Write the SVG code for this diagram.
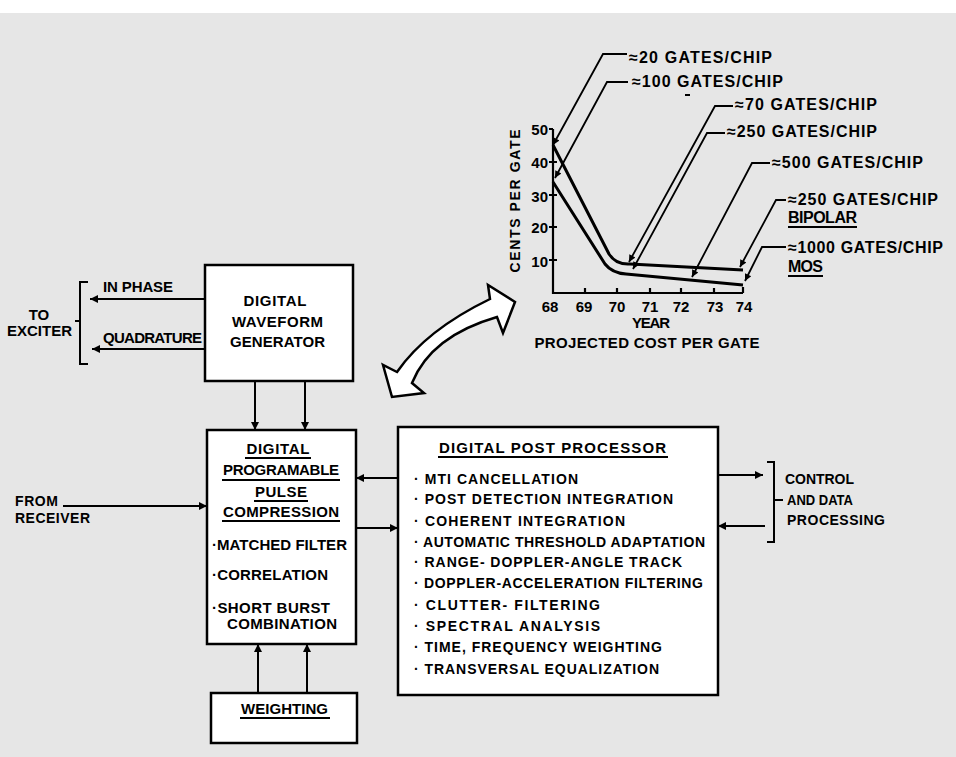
<svg xmlns="http://www.w3.org/2000/svg" width="956" height="757" viewBox="0 0 956 757">
<defs>
<style>
text{font-family:"Liberation Sans",Arial,sans-serif;font-weight:700;fill:#000;}
.t15{font-size:15px;}
.t14{font-size:14px;}
.t16{font-size:16px;}
.box{fill:#fff;stroke:#000;stroke-width:2.5;}
.wire{fill:none;stroke:#000;stroke-width:2;}
.ul{stroke:#000;stroke-width:1.8;}
.curve{fill:none;stroke:#000;stroke-width:3;stroke-linejoin:round;}
.lead{fill:none;stroke:#000;stroke-width:1.8;}
.axis{fill:none;stroke:#000;stroke-width:2.2;}
</style>
<marker id="ah" viewBox="0 0 10 10" refX="10" refY="5" markerWidth="12" markerHeight="8" markerUnits="userSpaceOnUse" orient="auto"><path d="M0,0 L10,5 L0,10 z" fill="#000"/></marker>
<marker id="sh" viewBox="0 0 10 10" refX="10" refY="5" markerWidth="9" markerHeight="7" markerUnits="userSpaceOnUse" orient="auto"><path d="M0,0 L10,5 L0,10 z" fill="#000"/></marker>
</defs>
<rect x="0" y="0" width="956" height="757" fill="#e6e6e6"/>
<rect x="0" y="0" width="956" height="13" fill="#ffffff"/>

<!-- Chart -->
<g id="chart">
<path class="axis" d="M553,129 L553,293 L743,293"/>
<path class="axis" d="M549,129 L553,129 M549,162 L557,162 M549,195 L557,195 M549,227 L557,227 M549,260 L557,260 M585,293 L585,288 M617,293 L617,288 M650,293 L650,288 M681,293 L681,288 M714,293 L714,288 M743,293 L743,287"/>
<g class="t15" text-anchor="end">
<text x="548" y="135">50</text>
<text x="548" y="168">40</text>
<text x="548" y="202">30</text>
<text x="548" y="233">20</text>
<text x="548" y="267">10</text>
</g>
<text class="t14" transform="translate(520,201) rotate(-90)" text-anchor="middle" textLength="143">CENTS PER GATE</text>
<g class="t15" text-anchor="middle">
<text x="550" y="312">68</text>
<text x="584" y="312">69</text>
<text x="617" y="312">70</text>
<text x="650" y="312">71</text>
<text x="681" y="312">72</text>
<text x="715" y="312">73</text>
<text x="744" y="312">74</text>
<text x="651" y="328" textLength="38">YEAR</text>
<text x="647" y="348" textLength="225">PROJECTED COST PER GATE</text>
</g>
<path class="curve" d="M553,145 L609,254 Q616,265 630,264 L743,270"/>
<path class="curve" d="M553,182 L605,264 Q612,273 626,274 L743,285"/>
<path class="lead" marker-end="url(#sh)" d="M627,54 L603,54 L553,145"/>
<path class="lead" marker-end="url(#sh)" d="M628,82 L607,82 L555,178"/>
<path class="lead" marker-end="url(#sh)" d="M733,106 L715,106 L629,262"/>
<path class="lead" marker-end="url(#sh)" d="M725,133 L707,133 L633,269"/>
<path class="lead" marker-end="url(#sh)" d="M770,163 L752,163 L692,277"/>
<path class="lead" marker-end="url(#sh)" d="M786,200 L776,200 L740,267"/>
<path class="lead" marker-end="url(#sh)" d="M786,247 L762,247 L745,281"/>
<g class="t16">
<text x="629" y="63" textLength="143">≈20 GATES/CHIP</text>
<text x="632" y="87" textLength="151">≈100 GATES/CHIP</text>
<text x="735" y="110" textLength="142">≈70 GATES/CHIP</text>
<text x="727" y="137" textLength="150">≈250 GATES/CHIP</text>
<text x="772" y="168" textLength="151">≈500 GATES/CHIP</text>
<text x="788" y="205" textLength="150">≈250 GATES/CHIP</text>
<text x="788" y="223" textLength="69">BIPOLAR</text>
<text x="788" y="253" textLength="155">≈1000 GATES/CHIP</text>
<text x="788" y="272" textLength="35">MOS</text>
</g>
<path class="ul" d="M788,227 L857,227 M788,276 L823,276"/>
<rect x="685" y="94" width="5" height="2" fill="#000"/>
</g>

<!-- Curved double arrow -->
<g id="double-arrow">
<path d="M392,397 L383,365 L397,372 Q426,330 490,299 L488,285 L515,302 L503,333 L497,317 Q431,336 412,383 L424,393 Z" fill="#fff" stroke="#000" stroke-width="2.5" stroke-linejoin="miter"/>
</g>

<!-- Connectors -->
<g id="connectors">
<path class="wire" marker-end="url(#ah)" d="M205,299 L90,299"/>
<path class="wire" marker-end="url(#ah)" d="M205,349 L92,349"/>
<path class="wire" d="M88,282 L80,282 L80,364 L88,364 M80,321 L75,321"/>
<path class="wire" marker-end="url(#ah)" d="M255,381 L255,430"/>
<path class="wire" marker-end="url(#ah)" d="M305,381 L305,430"/>
<path class="wire" marker-end="url(#ah)" d="M258,693 L258,644"/>
<path class="wire" marker-end="url(#ah)" d="M307,693 L307,644"/>
<path class="wire" marker-end="url(#ah)" d="M63,506 L207,506"/>
<path class="wire" marker-end="url(#ah)" d="M398,478 L356,478"/>
<path class="wire" marker-end="url(#ah)" d="M356,528 L398,528"/>
<path class="wire" marker-end="url(#ah)" d="M718,475 L763,475"/>
<path class="wire" marker-end="url(#ah)" d="M765,526 L718,526"/>
<path class="wire" d="M767,462 L774,462 L774,542 L767,542 M774,500 L783,500"/>
</g>

<g id="to-exciter" class="t15" text-anchor="middle">
<text x="39" y="320">TO</text>
<text x="39.5" y="336" textLength="65">EXCITER</text>
</g>
<g id="signal-labels" class="t15">
<text x="103" y="292" textLength="70">IN PHASE</text>
<text x="103" y="343" textLength="99">QUADRATURE</text>
</g>

<g id="waveform-generator">
<rect class="box" x="205" y="265" width="148" height="116"/>
<g class="t15" text-anchor="middle">
<text x="275" y="306" textLength="63">DIGITAL</text>
<text x="277.5" y="327" textLength="91">WAVEFORM</text>
<text x="277.5" y="347" textLength="95">GENERATOR</text>
</g>
</g>

<g id="pulse-compression">
<rect class="box" x="207" y="430" width="149" height="214"/>
<g class="t15" text-anchor="middle">
<text x="278" y="454" textLength="63">DIGITAL</text>
<text x="281" y="475" textLength="116">PROGRAMABLE</text>
<text x="281" y="497" textLength="52">PULSE</text>
<text x="281" y="517" textLength="116">COMPRESSION</text>
</g>
<path class="ul" d="M245,458 L311,458 M222,480 L340,480 M254,501 L308,501 M222,521 L340,521"/>
<g class="t15">
<text x="212" y="550" textLength="135">·MATCHED FILTER</text>
<text x="212" y="580" textLength="116">·CORRELATION</text>
<text x="212" y="613" textLength="118">·SHORT BURST</text>
<text x="227" y="629" textLength="110">COMBINATION</text>
</g>
</g>

<g id="weighting">
<rect class="box" x="211" y="693" width="146" height="50"/>
<text class="t15" x="241" y="714" textLength="87">WEIGHTING</text>
<path class="ul" d="M240,718 L330,718"/>
</g>

<g id="from-receiver" class="t14">
<text x="15" y="506" textLength="43">FROM</text>
<text x="15" y="523" textLength="75">RECEIVER</text>
</g>

<g id="post-processor">
<rect class="box" x="398" y="427" width="320" height="268"/>
<text class="t15" x="439" y="453" textLength="227">DIGITAL POST PROCESSOR</text>
<path class="ul" d="M438,457 L668,457"/>
<g class="t14">
<text x="414" y="484" textLength="164">· MTI CANCELLATION</text>
<text x="414" y="504" textLength="259">· POST DETECTION INTEGRATION</text>
<text x="414" y="526" textLength="211">· COHERENT INTEGRATION</text>
<text x="414" y="547" textLength="291">· AUTOMATIC THRESHOLD ADAPTATION</text>
<text x="414" y="567" textLength="268">· RANGE- DOPPLER-ANGLE TRACK</text>
<text x="414" y="588" textLength="289">· DOPPLER-ACCELERATION FILTERING</text>
<text x="414" y="610" textLength="186">· CLUTTER- FILTERING</text>
<text x="414" y="631" textLength="186">· SPECTRAL ANALYSIS</text>
<text x="414" y="652" textLength="248">· TIME, FREQUENCY WEIGHTING</text>
<text x="414" y="674" textLength="245">· TRANSVERSAL EQUALIZATION</text>
</g>
</g>

<g id="control-data" class="t14">
<text x="785" y="484" textLength="69">CONTROL</text>
<text x="787" y="505" textLength="66" lengthAdjust="spacingAndGlyphs">AND DATA</text>
<text x="787" y="525" textLength="98">PROCESSING</text>
</g>
</svg>
